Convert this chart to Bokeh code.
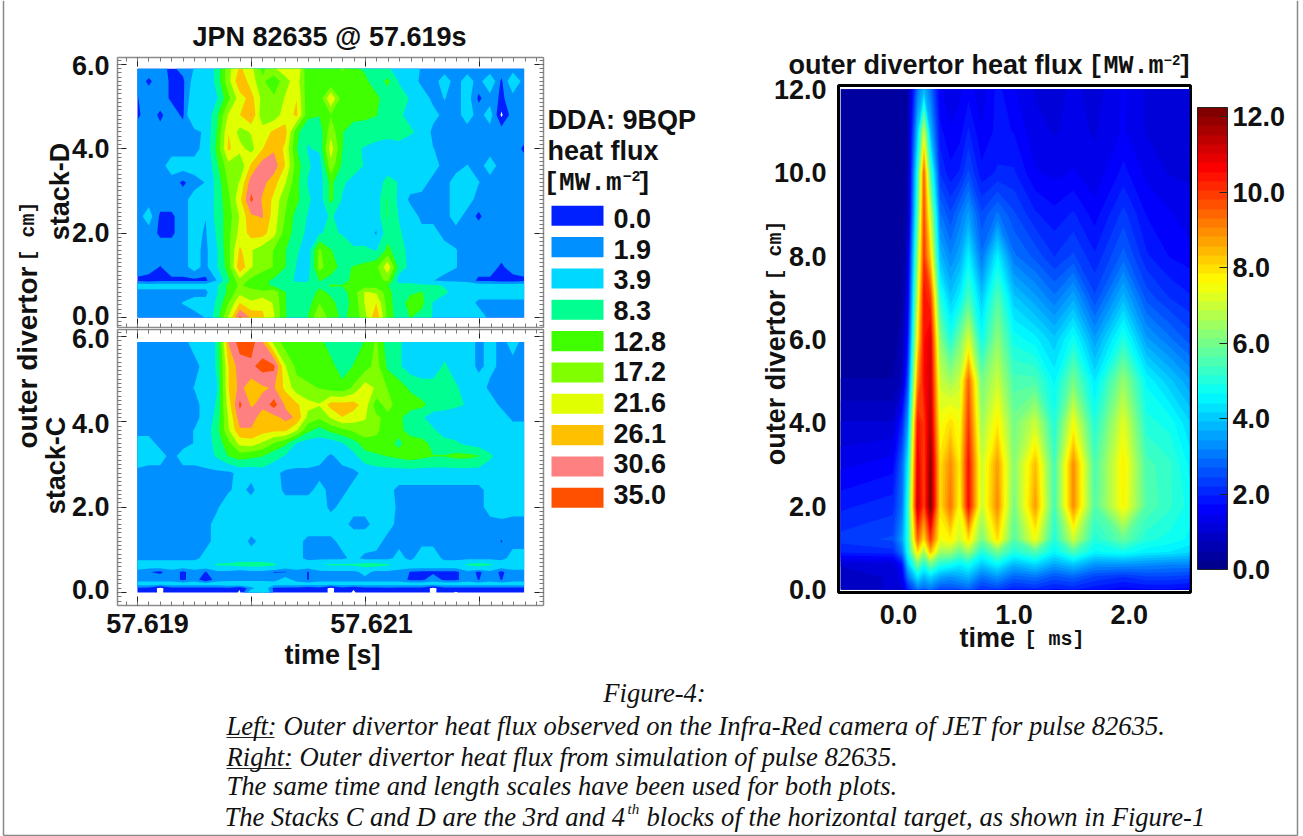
import numpy as np
from bokeh.embed import file_html
from bokeh.resources import INLINE
from bokeh.plotting import figure
from bokeh.layouts import row, column
from bokeh.models import (Label, Range1d, LinearAxis, FixedTicker, NumeralTickFormatter,
                          ColorBar, LinearColorMapper, ColumnDataSource, CustomJSTickFormatter)
from bokeh.core.properties import value

SANS = "Liberation Sans"
MONO = "Liberation Mono"
SERIF = "Liberation Serif"
FS = 27

# ---------- legend of the left plots ----------
legend_levels = ["0.0", "1.9", "3.9", "8.3", "12.8", "17.2", "21.6", "26.1", "30.6", "35.0"]
band_levels = [0.0, 1.9, 3.9, 8.3, 12.8, 17.2, 21.6, 26.1, 30.6, 35.0]
band_colors = ["#0020ff", "#0090ff", "#00d8ff", "#00ff90", "#40ff00",
               "#80ff00", "#e0ff00", "#ffc000", "#ff8080", "#ff5000"]

# ---------- stack-D (MW/m2), rows bottom to top, 35 time columns ----------
d_y = [0.0, 0.35, 0.6, 0.76, 0.88, 1.2, 1.6, 2.0, 2.4, 2.8, 3.2, 3.6, 4.0, 4.4, 4.8, 5.2, 5.6, 5.9]
d00 = [3,3,3,3,3,3,4,11,22,36,30,27,22,13,11,13,22,15,12,14,20,30,16,10,13,11,8,6,6,6,6,3,3,3,3]
d01 = [3,3,3,3,4,5,5,9,17,26,22,25,21,13,10,11,17,14,11,14,22,26,15,10,15,14,8,6,6,6,3,3,3,3,3]
d02 = [3,3,3,3,3,3,3,8,14,20,20,18,20,13,9,10,14,12,11,15,22,21,15,9,12,13,11,9,7,6,6,6,6,6,6]
d03 = [5,5,5,5,5,5,5,8,14,18,15,14,12,10,9,9,12,13,13,14,15,15,13,10,11,9,9,8,7,6,5,5,5,5,5]
d04 = [1.5,1,1.5,1.5,1.5,1.5,1.5,4,12,20,16,14,12,9,8,8,13,12,11,14,15,16,18,6,5,5,4,3,3,3,1.5,1.5,1,1,1.5]
d05 = [3,3,1.8,3,3,5,3,8,15,30,22,19,17,13,8,6,19,14,12,13,14,16,25,11,7,6,6,5,4,3,3,3,1.5,3,3]
d06 = [3,3,3,3,3,5,3,8,16,27,22,19,17,13,9,6,18,13,11,9,9,8,14,10,7,6,6,5,4,3,3,3,3,3,3]
d07 = [3,3,1.5,1.5,3,5,3.5,9,16,23,28,28,23,15,11,7,8,9,8,6,6,3.5,11,9,6,5,5,3,3,3,3,3,3,3,3]
d08 = [3,5,1.5,1.5,3,5,4,10,15,22,30,31,24,17,11,8,6,9,6,6,5,6,13,8,6,3,3,3,5,3,1.5,3,3,3,3]
d09 = [3,3,3,3,3,5,4,10,16,25,36,30,25,18,14,9,6,14,8,6,6,6,13,7,3,3,3,3,5,5,3,3,3,3,3]
d10 = [3,3,3,3,1.5,3,4,10,18,22,33,32,28,22,14,8,6,14,9,7,6,6,10,8,6,5,3,3,5,5,4,3,3,3,3]
d11 = [3,3,3,5,5,5,4,12,20,18,27,33,33,26,15,9,6,20,12,10,8,7,6,6,5,4,5,3,3,4,3,5,3,3,3]
d12 = [3,3,3,3,3,3,5,14,27,23,20,26,30,25,13,8,9,24,13,9,8,7,6,6,5,5,4,3,3,3,3,3,3,3,1.5]
d13 = [3,3,2.5,3,3,3,4.5,13,26,20,22,24,27,28,14,9,10,20,13,11,10,10,10,11,9,7,3,3,3,3,3,3,3,3,3]
d14 = [1.5,3,1.5,3,1.5,8,4.5,12,22,26,31,18,19,24,27,14,13,17,15,14,14,13,10,9,7,6,5,3,3,5,3,5,-0.4,3,3]
d15 = [1.8,3,3,1.5,1.5,6,4,8,16,24,28,20,18,22,26,14,14,26,15,15,15,14,10,10,8,6,3,4,3,5,1.5,3,1.5,3,3]
d16 = [3,1.5,3,1.5,1.5,5,4,10,20,30,24,18,14,20,24,14,15,13,14,15,14,10,14,8,6,3,3,5,3,5,3,6,1.5,6,3]
d17 = [3,3,2.5,1.5,2.5,4,4,10,20,27,23,16,21,24,26,13,13,13,18,14,12,9,9,6,6,3.5,3,3,3,3,3,2.5,3,3,3]
d_rows = [d00,d01,d02,d03,d04,d05,d06,d07,d08,d09,d10,d11,d12,d13,d14,d15,d16,d17]

# ---------- stack-C (MW/m2) ----------
c_y = [0.0, 0.1, 0.2, 0.3, 0.48, 0.65, 0.8, 1.2, 1.6, 2.0, 2.4, 2.8, 3.2, 3.5, 3.8, 4.1, 4.4, 4.8, 5.3, 5.87]
c00 = [1.4,1.3,-0.5,1.4,1.3,1.3,1.3,1.3,1.3,-0.3,6,9,1.4,1.3,1.3,1.3,1.3,-0.5,1.3,-0.3,1.3,1.3,1.4,1.4,1.3,1.3,-0.5,1.3,-0.3,1.3,1.3,1.3,1.3,1.3,1.3]
c01 = [1.5,1.2,-0.5,1.3,1.2,1.2,1.2,1.2,1.3,0.2,3,6,1.4,1.2,1.3,0.8,1.3,-0.5,1.2,0.2,1.2,1.3,1.5,1.2,1.2,1.2,-0.5,1.2,1.2,1.2,1.3,1.3,1.3,1.2,1.2]
c02 = [5,5,5,5,5,5,5,5,6,6,6,6,5,5,5,5,5,5,5,5,5,5,5,5,5,5,5,5,5,5,5,5,5,5,5]
c03 = [3,3,3,3,1.5,3,0.3,3,3,3,3,3,3,5,3,1.8,3,3,3,3,3,3,3,3,1.5,1.5,3,1.5,1.5,3,1.8,3,1.8,3,3]
c04 = [3,2,1.5,3,1.5,3,1.8,3,3,2,3,3,1.8,1.8,3,1.8,3,3,3,3,5,3,3,3,1.8,1.5,1.5,1.5,1.5,3,1.5,3,1.5,3,3]
c05 = [6,6,6,6,6,6,6,9,9,10,10,10,9,6,6,6,8,9,9,9,10,10,9,6,6,6,6,6,6,9,10,9,6,6,6]
c06 = [3,3,3,3,3,3,5,5,6,6,6,6,6,6,5,3,3,3,3,5,3,3,3,5,3,6,6,3,3,3,3,3,3,5,5]
c07 = [3,3,3,3,3,3,3,5,5,6,3,5,6,6,5,3,3,3,5,6,6,5,3,3,3,3,3,3,3,3,3,3,1.8,3,3]
c08 = [3,3,3,3,3,3,3,5,6,6,6,6,6,6,6,6,6,6,5,3,3,5,5,3,3,3,3,3,3,3,3,3,3,3,3]
c09 = [3,3,3,3,3,3,3,3.5,6,6,6,6,6,6,6,6,6,3,5,5,5,6,6,3,3,3,3,3,3,3,3,5,6,5,5]
c10 = [3,3,3,3,3,3,3,3,3.5,5,3,6,6,3,3,3,5,3,3,5,6,5,5,3,3,3,3,3,3,3,3,5,5,6,6]
c11 = [3,3,3,3,3,3,3,3,3,5,5,6,5,3,3,3,3,3,3,3,5,6,6,6,6,6,6,6,6,6,6,6,6,6,8]
c12 = [6,5,5,3,5,5,6,9,13,15,14,13,10,8,6,6,5,3.5,5,7,11,12,13,14,15,14,13,13,14,14,13,9,6,6,6]
c13 = [5,5,3,3,3,4,6,10,16,23,24,21,17,14,8,6,6,6,8,11,15,16,14,12,15,15,11,10,9,7,6,6,6,6,6]
c14 = [3,3,3,3,3,4,6,11,21,30,30,28,27,27,22,14,11,14,16,18,20,18,15,14,11,9,9,6,6,6,6,6,6,6,6]
c15 = [3,3,3,3,3,3,5,10,22,33,33,28,29,32,30,20,18,22,26,24,22,18,16,14,10,9,6,6,6,6,6,6,6,3,3]
c16 = [3,3,3,3,3,3,5,9,24,36,30,32,37,30,27,23,22,28,28,28,24,15,19,15,15,14,11,10,9,8,6,6,3,3,3]
c17 = [3,3,3,3,3,4,5,8,26,32,28,30,31,25,19,18,17,15,14,18,24,21,17,15,12,10,10,10,9,6,6,3,3,3,3]
c18 = [3,3,3,3,3,3,5,9,26,33,34,37,36,22,16,15,16,14,11,13,15,19,12,9,6,6,6,9,6,6,3,5,3,3,3]
c19 = [3,3,3,3,3,5,5,9,31,37,37,31,20,15,15,15,14,11,10,11,13,18,10,9,6,6,6,6,6,6,3,5,3,5,3]
c_rows = [c00,c01,c02,c03,c04,c05,c06,c07,c08,c09,c10,c11,c12,c13,c14,c15,c16,c17,c18,c19]

# ---------- simulation (MW/m2) ----------
s_t = [-0.5,-0.05,0.03,0.08,0.165,0.22,0.277,0.36,0.45,0.53,0.606,0.72,0.857,1.0,1.186,1.35,1.515,1.7,1.95,2.15,2.35,2.52]
s_z = [0.0, 0.3, 0.6, 0.9, 1.2, 2.0, 3.0, 4.0, 5.0, 6.0, 7.0, 8.0, 9.0, 10.0, 11.0, 12.0]
s00 = [.9,1,1.2,2,3,2.8,3,2.5,2.5,2.6,2.8,2.2,2.4,2,2.1,1.9,2,1.8,1.6,1.7,1.7,1.6]
s01 = [.9,1,1.4,3,4.4,3.8,4.2,3.6,3.4,3.6,3.8,3,3.4,2.8,3,2.6,2.8,2.4,2.2,2.4,2.4,2.3]
s02 = [1,1.1,1.8,4,6,5,6,5,4.8,4.5,4.8,4,4.6,3.8,4.2,3.6,4,3.4,3.4,3.3,3.2,3.2]
s03 = [2,2.1,3,4.8,8,6.5,8.5,6.5,6.5,5.8,6.5,5,6,5,5.6,4.6,5.5,4.6,4.8,4.5,4.4,4.2]
s04 = [2.3,2.5,3.5,5,9.5,8,10,7.5,7.8,7,8,6,8,5.6,7.5,5,7,5,5.8,5,4.8,4.6]
s05 = [1.9,2.1,3,5,11.3,9.8,12.2,8,9.3,7.6,10.6,7,9,6,8.8,5.4,9,5.6,7.7,5.6,5.2,4.8]
s06 = [1.4,1.6,2.8,4.5,11,9.8,12,8,9,7.8,10.5,7,8.8,6.2,8.4,5.4,9,5.5,7.8,5.5,5.2,4.6]
s07 = [1,1,2,3.5,10.5,10,11.5,7.5,8,7.5,10,6.5,7.8,6,7,5,7.5,5,7.3,5,4.8,4.2]
s08 = [.5,.5,.8,2.5,9,10.5,11.2,7,6.5,7,9.5,6,7,5.5,5.5,4.6,6,4.4,6.4,4.6,4,3.5]
s09 = [.35,.35,.6,1.8,7.8,10.5,11,6.2,5,6,7.2,4.8,6.3,4.8,4.5,4,4.8,3.5,5,3.5,3,2.6]
s10 = [.3,.3,.4,1.3,7,10.5,10,5,4,4.5,5.5,4,5.6,4,3.5,3,3.6,2.5,3.8,2.6,2.2,2]
s11 = [.25,.25,.3,1,6.3,10,8.2,3.8,3.2,3.6,4.5,3,4.5,3,2.6,2.2,2.5,2,2.8,2,1.7,1.6]
s12 = [.25,.25,.3,.6,5.5,9.8,7,3,2.5,3,3.5,2.5,3,2.5,2,1.8,2,1.6,2.3,1.7,1.5,1.3]
s13 = [.25,.25,.3,.5,5,9.5,5.5,2.2,1.8,2,2.5,1.8,2,2,1.5,1.4,1.5,1.3,1.8,1.4,1.2,1.2]
s14 = [.25,.25,.3,.5,4,7,3.8,1.8,1.5,1.6,2,1.5,1.8,1.7,1.3,1.2,1.3,1.2,1.5,1.2,1.1,1.1]
s15 = [.25,.25,.3,.5,3,3.8,3,1.5,1.3,1.4,1.6,1.3,1.8,1.5,1.2,1.1,1.3,1.1,1.5,1.2,1.1,1.1]
s_rows = [s00,s01,s02,s03,s04,s05,s06,s07,s08,s09,s10,s11,s12,s13,s14,s15]

cbar_ticks = [0, 2, 4, 6, 8, 10, 12]
stack_tick_labels = ["6.0", "4.0", "2.0", "0.0"]

# ---------- helpers ----------
def jet(n):
    xs = np.linspace(0, 1, n)
    r = np.interp(xs, [0, .375, .625, .875, 1], [0, 0, 255, 255, 128])
    g = np.interp(xs, [0, .125, .375, .625, .875, 1], [0, 0, 255, 255, 0, 0])
    b = np.interp(xs, [0, .125, .375, .625, 1], [143, 255, 255, 0, 0])
    return ["#%02x%02x%02x" % (int(a), int(c), int(d)) for a, c, d in zip(r, g, b)]

def bands(p, x, y, z, levels, colors):
    for lo, col in zip(levels, colors):
        p.contour(x, y, np.array(z, dtype=float), levels=[lo, 1000.0], fill_color=[col], line_color=None)

def blank(w, h, xr, yr):
    p = figure(width=w, height=h, toolbar_location=None, output_backend="svg",
               x_axis_type=None, y_axis_type=None, min_border=0, x_range=xr, y_range=yr)
    p.outline_line_color = None
    p.grid.visible = False
    p.frame_align = False
    return p

def ticks_axis(axis, major, minor):
    axis.ticker = FixedTicker(ticks=major, minor_ticks=list(minor))
    axis.axis_line_color = "#8c8c8c"
    axis.axis_line_width = 1.5
    axis.major_tick_in = 9
    axis.major_tick_out = 0
    axis.minor_tick_in = 4
    axis.minor_tick_out = 0
    axis.major_tick_line_color = "#222222"
    axis.minor_tick_line_color = "#777777"
    axis.formatter = CustomJSTickFormatter(code="return ''")
    axis.major_label_text_font_size = "1px"
    axis.major_label_standoff = 0

def stack_panel(h, yr, rows, ys, b_top, b_bottom):
    p = figure(width=545, height=h, toolbar_location=None, output_backend="svg",
               x_range=Range1d(57.618825, 57.62256), y_range=Range1d(*yr),
               min_border_left=117, min_border_right=2,
               min_border_top=b_top, min_border_bottom=b_bottom)
    p.frame_align = False
    p.grid.visible = False
    p.outline_line_color = "#8c8c8c"
    t = np.linspace(57.619, 57.62239, 35)
    bands(p, t, np.array(ys), np.array(rows, dtype=float), band_levels, band_colors)
    xmaj = [57.619, 57.620, 57.621, 57.622]
    xmin = [57.6188 + 0.0001 * i for i in range(39)]
    ymaj = [0.0, 2.0, 4.0, 6.0]
    ymin = [-0.2 + 0.1 * i for i in range(65)]
    ticks_axis(p.xaxis[0], xmaj, xmin)
    ticks_axis(p.yaxis[0], ymaj, ymin)
    p.add_layout(LinearAxis(), "above")
    p.add_layout(LinearAxis(), "right")
    ticks_axis(p.above[0], xmaj, xmin)
    ticks_axis(p.right[0], ymaj, ymin)
    return p

# ---------- stack panels ----------
pd = stack_panel(328, (-0.237, 6.165), d_rows, d_y, 57, 1)
pc = stack_panel(344, (-0.305, 6.164), c_rows, c_y, 1, 67)

# ---------- legend ----------
leg = blank(215, 672, Range1d(545, 760), Range1d((672 - 215) / 31.33, (0 - 215) / 31.33))
idx = list(range(len(legend_levels)))
src = ColumnDataSource(dict(i=[k * 0.98 + 0.09 for k in idx], label=legend_levels, color=band_colors,
                            top=[k - 0.31 for k in idx], bottom=[k + 0.33 for k in idx]))
leg.quad(left=551, right=603, top="top", bottom="bottom", fill_color="color", line_color=None, source=src)
leg.text(x=613, y="i", text="label", source=src, text_font=value(SANS), text_font_size=f"{FS}px",
         text_font_style="bold", text_color="#111111", text_baseline="middle")

# ---------- simulation ----------
jet_colors = jet(50)
cb_levels = list(np.linspace(0, 12.25, 51)[:-1])
ps = figure(width=543, height=672, toolbar_location=None, output_backend="svg",
            x_range=Range1d(-0.52, 2.53), y_range=Range1d(-0.072, 12.09),
            min_border_left=78, min_border_right=113, min_border_top=85, min_border_bottom=80)
ps.frame_align = False
ps.grid.visible = False
ps.outline_line_color = "#000000"
ps.outline_line_width = 3
bands(ps, np.array(s_t), np.array(s_z), np.array(s_rows, dtype=float), cb_levels, jet_colors)
ps.xaxis.ticker = FixedTicker(ticks=[0.0, 1.0, 2.0])
ps.yaxis.ticker = FixedTicker(ticks=[0.0, 2.0, 4.0, 6.0, 8.0, 10.0, 12.0])
for ax in (ps.xaxis[0], ps.yaxis[0]):
    ax.formatter = NumeralTickFormatter(format="0.0")
    ax.major_label_text_font = SANS
    ax.major_label_text_font_size = f"{FS}px"
    ax.major_label_text_font_style = "bold"
    ax.major_label_text_color = "#111111"
    ax.major_tick_line_color = None
    ax.minor_tick_line_color = None
    ax.axis_line_color = None
    ax.major_label_standoff = 6
cb = ColorBar(color_mapper=LinearColorMapper(palette=jet_colors, low=0, high=12.25),
              ticker=FixedTicker(ticks=cbar_ticks), formatter=NumeralTickFormatter(format="0.0"),
              location=(359, 23), width=30, height=462, padding=0,
              bar_line_color="#222222", major_tick_line_color="#222222", major_tick_in=8,
              minor_tick_line_color=None, background_fill_color=None, border_line_color=None,
              major_label_text_font=SANS, major_label_text_font_size=f"{FS}px",
              major_label_text_font_style="bold", major_label_text_color="#111111", label_standoff=5)
ps.add_layout(cb)

# ---------- overlay carrying every text that lies outside a plot frame ----------
ov = blank(1303, 836, Range1d(0, 1303), Range1d(836, 0))
ov.background_fill_color = None
ov.border_fill_color = None
ov.styles = {"position": "absolute", "left": "0px", "top": "0px", "pointer-events": "none"}

def put(px, py, text, font=SANS, size=FS, style="bold", angle=0.0, align="left"):
    ov.add_layout(Label(x=px, y=py, x_units="data", y_units="data", text=text,
                        text_font=font, text_font_size=f"{size}px", text_font_style=style,
                        text_color="#111111", angle=angle, text_align=align, text_baseline="middle"))

for lab, yy in zip(stack_tick_labels, (65, 148, 232, 315)):
    put(109, yy, lab, align="right")
for lab, yy in zip(stack_tick_labels, (338, 423, 506, 589)):
    put(109, yy, lab, align="right")
put(329, 36, "JPN 82635 @ 57.619s", align="center")
put(59, 191, "stack-D", angle=np.pi / 2, align="center")
put(55, 465, "stack-C", angle=np.pi / 2, align="center")
put(27, 357, "outer divertor", size=28, angle=np.pi / 2, align="center")
put(28, 231, "[ cm]", font=MONO, size=20, angle=np.pi / 2, align="center")
put(147, 623, "57.619", align="center")
put(371, 623, "57.621", align="center")
put(332, 654, "time [s]", align="center")
put(547, 119, "DDA: 9BQP")
put(547, 150, "heat flux")
put(543, 182, "[MW.m", font=MONO, size=26)
put(622, 175, "\u22122", font=MONO, size=15)
put(636, 182, "]", font=MONO, size=26)
put(788, 64, "outer divertor heat flux")
put(1088, 66, "[MW.m", font=MONO, size=25)
put(1163, 59, "\u22122", font=MONO, size=14)
put(1177, 66, "]", font=MONO, size=25)
put(775, 377, "outer divertor", angle=np.pi / 2, align="center")
put(775, 250, "[ cm]", font=MONO, size=20, angle=np.pi / 2, align="center")
put(959, 637, "time")
put(1024, 639, "[ ms]", font=MONO, size=20)

CS = 26.6
def cline(px, py, t, align="left"):
    put(px, py, t, font=SERIF, size=CS, style="italic", align=align)
cline(654, 692, "Figure-4:", "center")
cline(226, 725, "Left:")
cline(283, 725, "Outer divertor heat flux observed on the Infra-Red camera of JET for pulse 82635.")
cline(226, 756, "Right:")
cline(299, 756, "Outer divertor heat flux from simulation of pulse 82635.")
cline(226, 785, "The same time and length scales have been used for both plots.")
cline(224, 816, "The Stacks C and D are the 3rd and 4")
put(627, 808, "th", font=SERIF, size=15, style="italic")
cline(646, 816, "blocks of the horizontal target, as shown in Figure-1")
ov.segment(x0=[226, 226], x1=[274, 291], y0=[737, 768], y1=[737, 768], line_color="#222222", line_width=1.2)
# grey page frame
ov.segment(x0=[3, 1297, 3], x1=[3, 1297, 1297], y0=[0, 0, 835], y1=[835, 835, 835], line_color="#888888", line_width=1.5)

main = column(row(column(pd, pc, spacing=0), leg, ps, spacing=0), spacing=0)
open("out.html", "w").write(file_html([main, ov], INLINE))
